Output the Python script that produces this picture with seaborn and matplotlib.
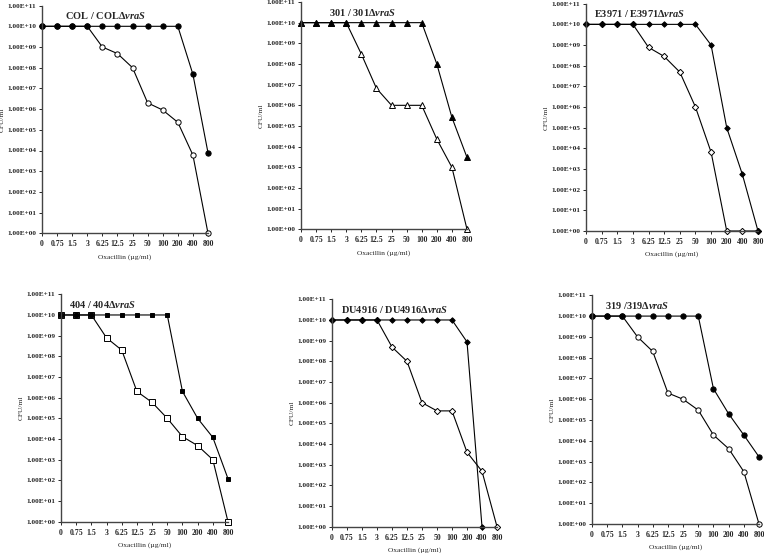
import numpy as np
import pandas as pd
import seaborn as sns
import matplotlib.pyplot as plt
from matplotlib.ticker import FixedLocator, FuncFormatter, NullLocator

doses = ["0", "0.75", "1.5", "3", "6.25", "12.5", "25", "50", "100", "200", "400", "800"]
y_ticks = [1e0, 1e1, 1e2, 1e3, 1e4, 1e5, 1e6, 1e7, 1e8, 1e9, 1e10, 1e11]

# CFU/ml (wild type = filled, vraS mutant = open)
col_wt = [1e10, 1e10, 1e10, 1e10, 1e10, 1e10, 1e10, 1e10, 1e10, 1e10, 4.8e7, 7.8e3]
col_mut = [1e10, 1e10, 1e10, 1e10, 1e9, 4.8e8, 1e8, 2e6, 9e5, 2.3e5, 6e3, 1]

s301_wt = [1e10, 1e10, 1e10, 1e10, 1e10, 1e10, 1e10, 1e10, 1e10, 1e8, 2.6e5, 3e3]
s301_mut = [1e10, 1e10, 1e10, 1e10, 3e8, 6.6e6, 1e6, 1e6, 1e6, 2.3e4, 1e3, 1]

e3971_wt = [1e10, 1e10, 1e10, 1e10, 1e10, 1e10, 1e10, 1e10, 1e9, 1e5, 5.5e2, 1]
e3971_mut = [1e10, 1e10, 1e10, 1e10, 7.7e8, 2.8e8, 4.9e7, 1e6, 6.5e3, 1, 1, 1]

s404_wt = [1e10, 1e10, 1e10, 1e10, 1e10, 1e10, 1e10, 1e10, 2e6, 1e5, 1.2e4, 1.2e2]
s404_mut = [1e10, 1e10, 1e10, 7.8e8, 2e8, 2e6, 5.9e5, 1e5, 1.3e4, 4.8e3, 1e3, 1]

du4916_wt = [1e10, 1e10, 1e10, 1e10, 1e10, 1e10, 1e10, 1e10, 1e10, 8.7e8, 1, np.nan]
du4916_mut = [1e10, 1e10, 1e10, 1e10, 4.9e8, 1e8, 1e6, 4e5, 4e5, 4e3, 4.8e2, 1]

s319_wt = [1e10, 1e10, 1e10, 1e10, 1e10, 1e10, 1e10, 1e10, 3.2e6, 2e5, 1.9e4, 1.7e3]
s319_mut = [1e10, 1e10, 1e10, 1e9, 2e8, 2e6, 1e6, 3e5, 1.9e4, 4.2e3, 3.3e2, 1]

sns.set_style("ticks")
plt.rcParams["font.family"] = ["Liberation Serif", "DejaVu Serif"]
plt.rcParams["font.weight"] = "bold"
plt.rcParams["mathtext.fontset"] = "custom"
plt.rcParams["mathtext.rm"] = "Liberation Serif:bold"
plt.rcParams["mathtext.it"] = "Liberation Serif:italic:bold"

W, H = 764, 553
fig = plt.figure(figsize=(W / 100, H / 100), dpi=100)

# (title, wt, mutant, marker, wt size, mutant size, [left, right, top, bottom] px, title x)
panels = [
    ("COL / COLΔ$\\mathit{vraS}$", col_wt, col_mut, "o", 3.8, 3.8, [42, 208, 5.6, 233.3], 0.38),
    ("301 / 301Δ$\\mathit{vraS}$", s301_wt, s301_mut, "^", 4.0, 4.0, [301, 467, 2, 229.3], 0.37),
    ("E3971 / E3971Δ$\\mathit{vraS}$", e3971_wt, e3971_mut, "D", 2.8, 3.2, [586, 758, 3.7, 231], 0.31),
    ("404 / 404Δ$\\mathit{vraS}$", s404_wt, s404_mut, "s", 2.6, 4.0, [61, 228, 294.3, 521.7], 0.25),
    ("DU4916 / DU4916Δ$\\mathit{vraS}$", du4916_wt, du4916_mut, "D", 2.8, 3.2, [332, 497, 299.3, 526.7], 0.38),
    ("319 /319Δ$\\mathit{vraS}$", s319_wt, s319_mut, "o", 3.8, 3.8, [592, 759, 295.3, 524], 0.27),
]

pos = np.arange(len(doses))

for title, wt, mut, marker, ms_wt, ms_mut, box, tx in panels:
    left, right, top, bottom = box
    ax = fig.add_axes([left / W, 1 - bottom / H, (right - left) / W, (bottom - top) / H])
    ax.set_yscale("log")
    for vals, face, ms in [(mut, "white", ms_mut), (wt, "black", ms_wt)]:
        df = pd.DataFrame({"x": pos, "y": vals}).dropna()
        sns.lineplot(data=df, x="x", y="y", ax=ax, color="black", lw=0.8,
                     marker=marker, markersize=ms, markerfacecolor=face,
                     markeredgecolor="black", markeredgewidth=0.7,
                     estimator=None, sort=False, clip_on=False)
    ax.set_xlim(0, len(doses) - 1)
    ax.set_ylim(1, 1e11)
    ax.set_xticks(pos)
    ax.set_xticklabels(doses)
    ax.yaxis.set_major_locator(FixedLocator(y_ticks))
    ax.yaxis.set_minor_locator(NullLocator())
    ax.yaxis.set_major_formatter(FuncFormatter(lambda v, p: f"{v:.2E}"))
    ax.tick_params(axis="y", labelsize=5.2, length=2.5, width=0.7, pad=1.5)
    ax.tick_params(axis="x", labelsize=5.6, length=2, width=0.7, pad=3)
    for s in ["top", "right"]:
        ax.spines[s].set_visible(False)
    for s in ["left", "bottom"]:
        ax.spines[s].set_color("#444444")
        ax.spines[s].set_linewidth(1.0)
    ax.set_xlabel("Oxacillin (µg/ml)", fontsize=5.4, labelpad=4)
    ax.set_ylabel("CFU/ml", fontsize=5.4, labelpad=2)
    ax.text(tx, 0.955, title, transform=ax.transAxes, ha="center", va="center", fontsize=7.5)

fig.savefig("out.png", dpi=100)
